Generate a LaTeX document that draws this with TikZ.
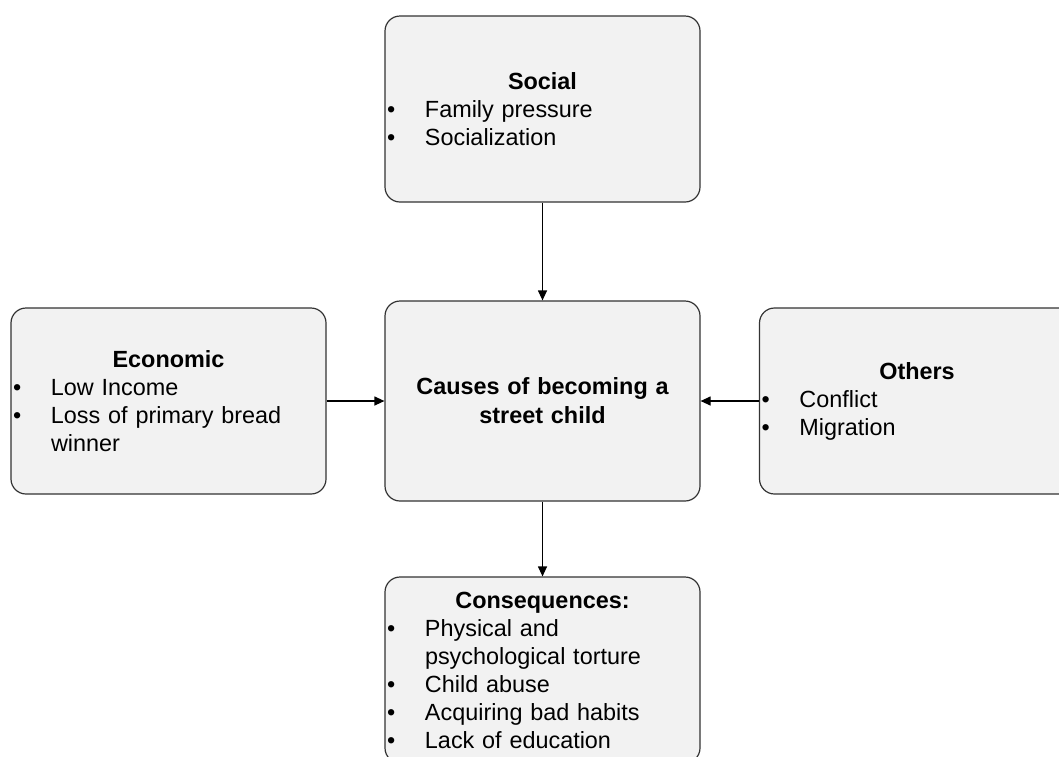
\documentclass[tikz,border=0pt]{standalone}
\usepackage{fontspec}
\setmainfont{Liberation Sans}
\usetikzlibrary{arrows.meta}
\newcommand{\bitem}[1]{\par\hangindent=20pt\hangafter=1\noindent\makebox[20pt][l]{\hspace{1pt}\textbullet}#1}
\newcommand{\boxtitle}[1]{{\centering\bfseries #1\par}}
\begin{document}
\begin{tikzpicture}[x=0.5pt,y=-0.5pt,
    card/.style={draw=black!80,fill=black!5,rounded corners=7.5pt,line width=0.6pt,
      minimum width=157.5pt,minimum height=93pt,text width=157.5pt,
      inner xsep=0pt,inner ysep=0pt,align=left,
      font=\fontsize{11.7pt}{14pt}\selectfont},
    link/.style={-{Triangle[length=5pt,width=4.5pt]},line width=0.6pt}]
    % frame
    \useasboundingbox (0,0) rectangle (1059,756);
    \clip (0,0) rectangle (1059,756);
    % causes
    \node[card] (social) at (542.5,109) {\boxtitle{Social}\bitem{Family pressure}\bitem{Socialization}\par};
    \node[card] (economic) at (168.5,401) {\boxtitle{Economic}\bitem{Low Income}\bitem{Loss of primary bread\newline winner}\par};
    \node[card] (others) at (917,401) {\boxtitle{Others}\bitem{Conflict}\bitem{Migration}\par};
    % centre
    \node[card,minimum height=100pt,align=center,
      font=\fontsize{11.7pt}{14.5pt}\selectfont\bfseries] (causes) at (542.5,401) {Causes of becoming a\\ street child};
    % result
    \node[card] (conseq) at (542.5,670) {\boxtitle{Consequences:}\bitem{Physical and\newline psychological torture}\bitem{Child abuse}\bitem{Acquiring bad habits}\bitem{Lack of education}\par};
    %
    \draw[link] (social) -- (causes);
    \draw[link] (economic) -- (causes);
    \draw[link] (others) -- (causes);
    \draw[link] (causes) -- (conseq);
  \end{tikzpicture}
\end{document}
